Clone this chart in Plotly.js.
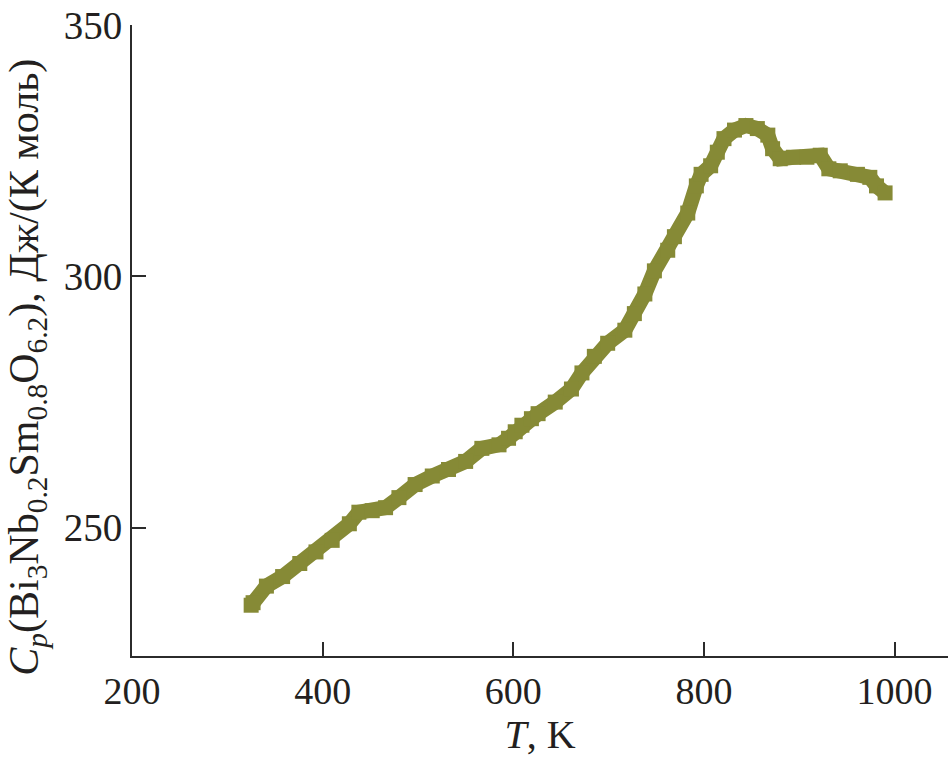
<!DOCTYPE html>
<html>
<head>
<meta charset="utf-8">
<script src="https://cdn.plot.ly/plotly-3.0.1.min.js"></script>
<style>html,body{margin:0;padding:0;background:#fff;}#chart{width:950px;height:760px;}</style>
</head>
<body>
<div id="chart"></div>
<script>
// Temperature, K
const temperature = [325, 327, 341, 358, 376, 393, 410, 428, 438, 452, 466, 480, 497, 515, 532, 550, 567, 585, 595, 602, 609, 619, 626, 644, 661, 672, 685, 699, 717, 727, 738, 748, 762, 769, 783, 792, 797, 807, 814, 821, 832, 844, 856, 867, 872, 880, 894, 908, 922, 931, 943, 961, 974, 981, 990];
// Heat capacity Cp, J/(K mol)
const heatCapacity = [234.6, 235.1, 238.4, 240.3, 242.9, 245.2, 247.5, 250.8, 253.1, 253.4, 254.0, 256.0, 258.6, 260.3, 261.6, 263.2, 265.8, 266.5, 267.8, 269.1, 270.4, 271.7, 272.7, 275.0, 277.6, 280.8, 284.1, 286.7, 289.3, 292.6, 296.5, 301.1, 305.2, 307.9, 312.6, 318.0, 320.3, 322.0, 324.7, 327.4, 329.1, 330.0, 329.4, 328.1, 325.4, 323.4, 323.7, 323.7, 324.1, 321.4, 321.0, 320.3, 319.7, 318.0, 316.6];
const xTicks = [200, 400, 600, 800, 1000];
const yTicks = [250, 300, 350];

const olive = '#868a36';
const axisColor = '#2b2b2b';
const textColor = '#231f20';
const serif = 'Liberation Serif, Times New Roman, serif';

const trace = {
  x: temperature,
  y: heatCapacity,
  type: 'scatter',
  mode: 'lines+markers',
  line: {color: olive, width: 15},
  marker: {symbol: 'square', size: 15, color: olive},
  showlegend: false,
  hoverinfo: 'x+y'
};

const layout = {
  width: 950,
  height: 760,
  margin: {l: 132, r: 2, t: 25, b: 104},
  paper_bgcolor: '#ffffff',
  plot_bgcolor: '#ffffff',
  font: {family: serif, color: textColor},
  xaxis: {
    range: [200, 1056],
    tickmode: 'array',
    tickvals: xTicks,
    ticktext: xTicks.map(String),
    ticks: 'inside',
    ticklen: 14,
    tickwidth: 2,
    tickcolor: axisColor,
    showline: true,
    linewidth: 2,
    linecolor: axisColor,
    showgrid: false,
    zeroline: false,
    tickfont: {family: serif, size: 38, color: textColor},
    title: {text: '<i>T</i>, K', font: {family: serif, size: 40, color: textColor}, standoff: 2}
  },
  yaxis: {
    range: [224.5, 350],
    tickmode: 'array',
    tickvals: yTicks,
    ticktext: yTicks.map(String),
    ticks: 'inside',
    ticklen: 14,
    tickwidth: 2,
    tickcolor: axisColor,
    showline: true,
    linewidth: 2,
    linecolor: axisColor,
    showgrid: false,
    zeroline: false,
    tickfont: {family: serif, size: 39, color: textColor}
  },
  annotations: [{
    xref: 'paper', yref: 'paper',
    x: -0.129, y: 0.458,
    xanchor: 'center', yanchor: 'middle',
    textangle: -90,
    showarrow: false,
    text: '<i>C</i><sub><i>p</i></sub>(Bi<sub>3</sub>Nb<sub>0.2</sub>Sm<sub>0.8</sub>O<sub>6.2</sub>), Дж/(К моль)',
    font: {family: serif, size: 42, color: textColor}
  }]
};

Plotly.newPlot('chart', [trace], layout, {displayModeBar: false, staticPlot: true});
</script>
</body>
</html>
